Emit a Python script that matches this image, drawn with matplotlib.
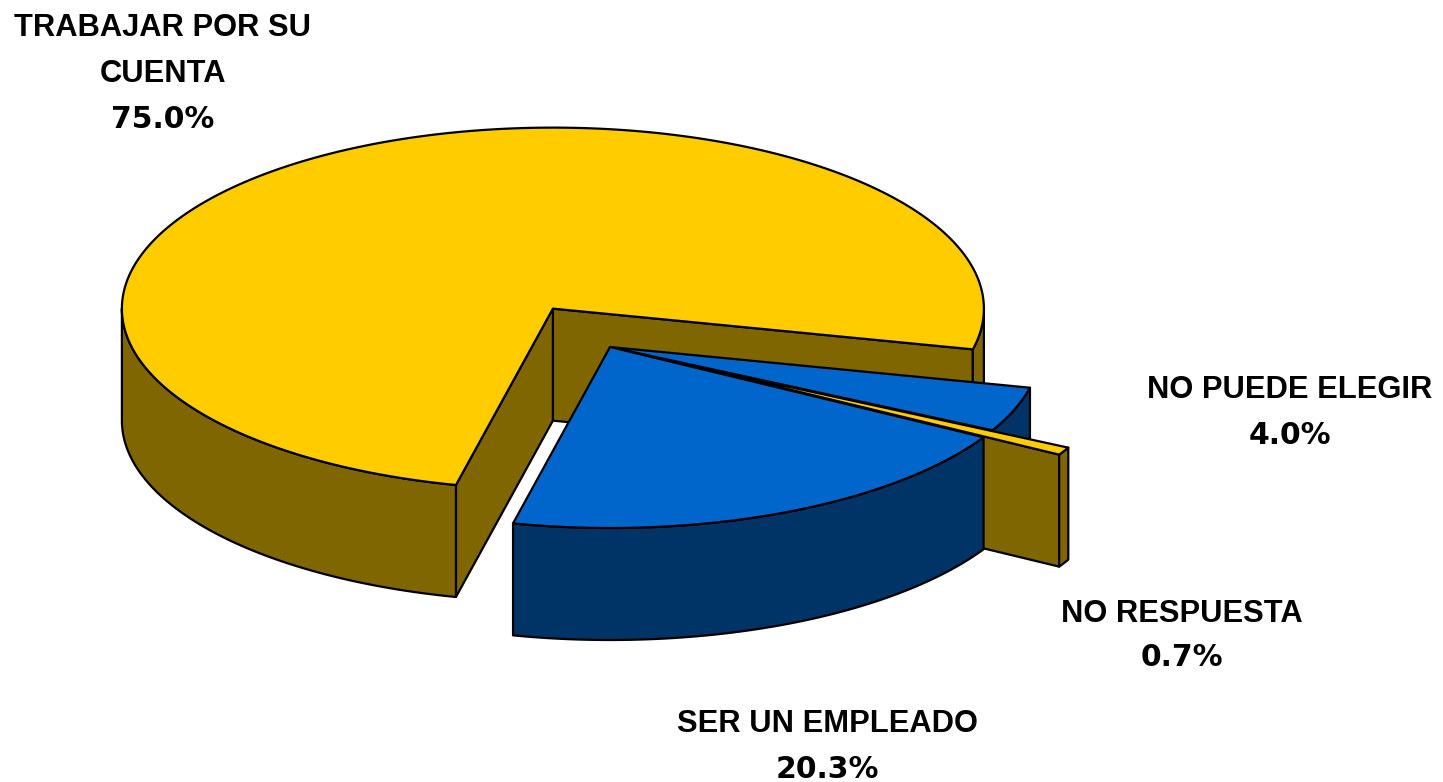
import numpy as np
import matplotlib
matplotlib.use("Agg")
import matplotlib.pyplot as plt
from matplotlib.patches import Polygon

W, H = 1443, 782

categories = ["SER UN EMPLEADO", "NO RESPUESTA", "NO PUEDE ELEGIR", "TRABAJAR POR SU\nCUENTA"]
values = [20.3, 0.7, 4.0, 75.0]
explode = [0.0, 0.2, 0.0, 0.25]
top_colors = ["#0066CC", "#FFCC00", "#0066CC", "#FFCC00"]
side_colors = ["#003366", "#806600", "#003366", "#806600"]
draw_order = [3, 2, 1, 0]

label_x = [827, 1182, 1290, 163]
value_y = [767, 656, 433, 117]

# pie geometry, in pixels
CX, CY = 610, 347
RX, RY = 431, 181
DEPTH = 112
START = 103.0
LW = 1.6
LINE_STEP = 46


def rim(c, t):
    t = np.radians(t)
    return np.column_stack([c[0] + RX * np.cos(t), c[1] + RY * np.sin(t)])


def poly(ax, pts, color):
    ax.add_patch(Polygon(pts, closed=True, facecolor=color, edgecolor="black",
                         linewidth=LW, joinstyle="round"))


def cut_face(ax, c, t, color):
    p = rim(c, np.array([t]))[0]
    pts = [c, p, (p[0], p[1] + DEPTH), (c[0], c[1] + DEPTH)]
    poly(ax, pts, color)


def outer_wall(ax, c, t_lo, t_hi, color):
    # only the part of the rim facing the viewer
    for a, b in [(-360, -180), (0, 180), (360, 540)]:
        lo, hi = max(t_lo, a), min(t_hi, b)
        if hi <= lo:
            continue
        top = rim(c, np.linspace(lo, hi, 200))
        bottom = top[::-1] + [0, DEPTH]
        poly(ax, np.vstack([top, bottom]), color)


def draw_slice(ax, i, t_hi, t_lo):
    mid = np.radians((t_hi + t_lo) / 2)
    c = (CX + explode[i] * RX * np.cos(mid), CY + explode[i] * RY * np.sin(mid))
    if np.cos(np.radians(t_hi)) > 0:
        cut_face(ax, c, t_hi, side_colors[i])
    if np.cos(np.radians(t_lo)) < 0:
        cut_face(ax, c, t_lo, side_colors[i])
    outer_wall(ax, c, t_lo, t_hi, side_colors[i])
    top = rim(c, np.linspace(t_lo, t_hi, 400))
    poly(ax, np.vstack([[c], top]), top_colors[i])


fig = plt.figure(figsize=(W / 100, H / 100), dpi=100)
ax = fig.add_axes([0, 0, 1, 1])
ax.set_xlim(0, W)
ax.set_ylim(H, 0)
ax.axis("off")

angles = START - 3.6 * np.cumsum([0] + values)
for i in draw_order:
    draw_slice(ax, i, angles[i], angles[i + 1])

for i, cat in enumerate(categories):
    lines = cat.split("\n")
    for k, line in enumerate(lines):
        ax.text(label_x[i], value_y[i] - LINE_STEP * (len(lines) - k), line, ha="center", va="center_baseline",
                family="Liberation Sans", fontweight="bold", fontsize=22.2, color="black")
    ax.text(label_x[i], value_y[i] - 1, f"{values[i]:.1f}%", ha="center", va="center_baseline",
            family="DejaVu Sans", fontweight="bold", fontsize=21.5, color="black")

fig.savefig("out.png", dpi=100)
